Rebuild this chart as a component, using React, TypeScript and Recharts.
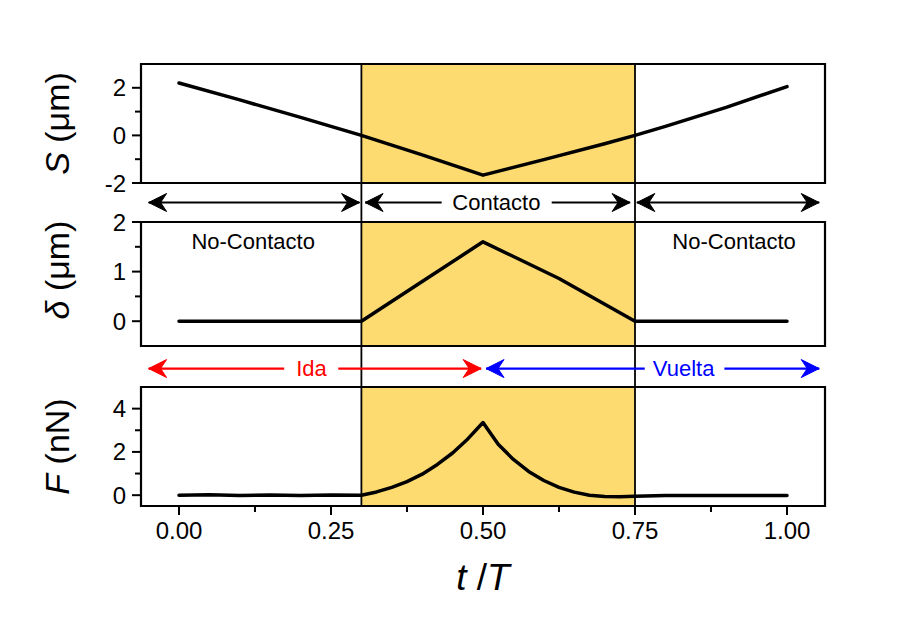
import { LineChart, Line, XAxis, YAxis, ReferenceArea, ReferenceLine, ReferenceDot } from 'recharts';

// t/T sampling and values
const tS = [0, 0.1, 0.2, 0.3, 0.4, 0.5, 0.6, 0.7, 0.75, 0.8, 0.9, 1.0];
const sValues = [2.2, 1.49, 0.76, 0.0, -0.82, -1.67, -1.02, -0.35, 0.0, 0.38, 1.18, 2.05];

const tDelta = [0, 0.3, 0.4, 0.5, 0.625, 0.75, 1.0];
const deltaValues = [0, 0, 0.8, 1.6, 0.86, 0, 0];

const tF = [
  0, 0.05, 0.1, 0.15, 0.2, 0.25, 0.3, 0.325, 0.35, 0.375, 0.4, 0.425, 0.45, 0.475, 0.5,
  0.51, 0.525, 0.55, 0.575, 0.6, 0.625, 0.65, 0.675, 0.7, 0.725, 0.75, 0.8, 0.85, 0.9, 0.95, 1.0,
];
const fValues = [
  0, 0.02, -0.01, 0.01, -0.02, 0.01, 0, 0.15, 0.36, 0.63, 0.97, 1.42, 1.95, 2.6, 3.36,
  2.95, 2.35, 1.65, 1.1, 0.68, 0.36, 0.14, 0.0, -0.06, -0.07, -0.05, -0.02, -0.01, -0.02, -0.01, -0.01,
];

const xDomain = [-0.0625, 1.0625];
const xTicks = [0, 0.125, 0.25, 0.375, 0.5, 0.625, 0.75, 0.875, 1];
const xMajor = [0, 0.25, 0.5, 0.75, 1];

const sDomain = [-2, 3];
const sTicks = [-2, -1, 0, 1, 2];
const sMajor = [-2, 0, 2];
const dDomain = [-0.5, 2];
const dTicks = [0, 0.5, 1, 1.5, 2];
const dMajor = [0, 1, 2];
const fDomain = [-0.5, 5];
const fTicks = [0, 1, 2, 3, 4];
const fMajor = [0, 2, 4];

const contactStart = 0.3;
const contactEnd = 0.75;

// arrow annotations (t/T units): [from, to, head at start, head at end]
const phaseArrows: [number, number, boolean, boolean][] = [
  [-0.05, 0.297, true, true],
  [0.306, 0.432, true, false],
  [0.613, 0.742, false, true],
  [0.753, 1.053, true, true],
];
const idaArrows: [number, number, boolean, boolean][] = [
  [-0.05, 0.173, true, false],
  [0.262, 0.497, false, true],
];
const vueltaArrows: [number, number, boolean, boolean][] = [
  [0.505, 0.766, true, false],
  [0.897, 1.053, false, true],
];
const contactoLabel = { t: 0.522, text: 'Contacto' };
const idaLabel = { t: 0.218, text: 'Ida' };
const vueltaLabel = { t: 0.83, text: 'Vuelta' };
const noContactoLabels = [
  { t: 0.122, v: 1.6 },
  { t: 0.913, v: 1.6 },
];

const W = 903;
const PLOT_LEFT = 141;
const MARGIN_R = 78;
const FONT = '"Liberation Sans", Arial, Helvetica, sans-serif';
const SHADE = '#FDDB70';

const toRows = (ts: number[], vs: number[]) => ts.map((t, i) => ({ t, v: vs[i] }));

const yTick = (major: number[]) => (props: any) => {
  const { x, y, payload } = props;
  const isMajor = major.includes(payload.value);
  return (
    <g>
      <line x1={x - (isMajor ? 9 : 6)} y1={y} x2={x} y2={y} stroke="#000" strokeWidth={2} />
      {isMajor && (
        <text x={x - 15} y={y} textAnchor="end" dominantBaseline="central" fontSize={24} fontFamily={FONT} fill="#000">
          {payload.value}
        </text>
      )}
    </g>
  );
};

const xTick = (props: any) => {
  const { x, y, payload } = props;
  const isMajor = xMajor.includes(payload.value);
  return (
    <g>
      <line x1={x} y1={y} x2={x} y2={y + (isMajor ? 9 : 6)} stroke="#000" strokeWidth={2} />
      {isMajor && (
        <text x={x} y={y + 33} textAnchor="middle" fontSize={24} fontFamily={FONT} fill="#000">
          {payload.value.toFixed(2)}
        </text>
      )}
    </g>
  );
};

const yTitle = (sym: string, unit: string, dy = 0) => (props: any) => {
  const { viewBox } = props;
  const cx = 57;
  const cy = viewBox.y + viewBox.height / 2 + dy;
  return (
    <text
      x={cx}
      y={cy}
      transform={`rotate(-90, ${cx}, ${cy})`}
      textAnchor="middle"
      dominantBaseline="central"
      fontSize={34}
      fontFamily={FONT}
      fill="#000"
    >
      <tspan fontStyle="italic">{sym}</tspan>
      <tspan> {unit}</tspan>
    </text>
  );
};

const head = (cx: number, cy: number, dir: number, color: string, key: string) => {
  const L = 18;
  const H = 9;
  const N = 12;
  const d = `M${cx},${cy} L${cx - dir * L},${cy - H} L${cx - dir * N},${cy} L${cx - dir * L},${cy + H} Z`;
  return <path key={key} d={d} fill={color} stroke={color} strokeWidth={1} strokeLinejoin="round" />;
};

const arrowLines = (arrows: [number, number, boolean, boolean][], color: string, prefix: string) =>
  arrows.map(([from, to, hs, he], i) => (
    <Line
      key={`${prefix}-${i}`}
      data={[
        { t: from, y: 0 },
        { t: to, y: 0 },
      ]}
      dataKey="y"
      stroke={color}
      strokeWidth={2.2}
      isAnimationActive={false}
      activeDot={false}
      dot={(p: any) => {
        const k = `${prefix}-${i}-${p.index}`;
        if (p.index === 0 && hs) return head(p.cx, p.cy, -1, color, k);
        if (p.index === 1 && he) return head(p.cx, p.cy, 1, color, k);
        return <g key={k} />;
      }}
    />
  ));

const rowText = (lbl: { t: number; text: string }, color: string) => (
  <ReferenceDot
    key={lbl.text}
    x={lbl.t}
    y={0}
    r={0}
    ifOverflow="visible"
    shape={(p: any) => (
      <text x={p.cx} y={p.cy} textAnchor="middle" dominantBaseline="central" fontSize={22} fontFamily={FONT} fill={color}>
        {lbl.text}
      </text>
    )}
  />
);

const contactLines = () => [
  <ReferenceLine key="c1" x={contactStart} stroke="#000" strokeWidth={1.8} />,
  <ReferenceLine key="c2" x={contactEnd} stroke="#000" strokeWidth={1.8} />,
];

const panelBase = (domain: number[]) => [
  <ReferenceArea key="shade" x1={contactStart} x2={contactEnd} y1={domain[0]} y2={domain[1]} fill={SHADE} fillOpacity={1} stroke="none" />,
  ...contactLines(),
  <ReferenceArea
    key="frame"
    x1={xDomain[0]}
    x2={xDomain[1]}
    y1={domain[0]}
    y2={domain[1]}
    fill="none"
    fillOpacity={0}
    stroke="#000"
    strokeWidth={2.2}
  />,
];

const lineStyle = {
  type: 'linear' as const,
  dataKey: 'v',
  stroke: '#000',
  strokeWidth: 3.5,
  dot: false,
  activeDot: false,
  strokeLinejoin: 'round' as const,
  strokeLinecap: 'round' as const,
  isAnimationActive: false,
};

export default function App() {
  const pos = (top: number): React.CSSProperties => ({ position: 'absolute', left: 0, top });
  return (
    <div style={{ position: 'absolute', left: 0, top: 0, width: W, height: 633, background: '#fff', fontFamily: FONT }}>
      {/* S panel */}
      <div style={pos(0)}>
        <LineChart width={W} height={200} data={toRows(tS, sValues)} margin={{ top: 64, right: MARGIN_R, bottom: 17, left: 0 }}>
          <XAxis type="number" dataKey="t" domain={xDomain} allowDataOverflow hide />
          <YAxis
            width={PLOT_LEFT}
            type="number"
            domain={sDomain}
            allowDataOverflow
            ticks={sTicks}
            interval={0}
            axisLine={false}
            tickLine={false}
            tickSize={0}
            tickMargin={0}
            tick={yTick(sMajor)}
            label={yTitle('S', '(μm)')}
          />
          {panelBase(sDomain)}
          <Line {...lineStyle} />
        </LineChart>
      </div>

      {/* phase arrows */}
      <div style={pos(183)}>
        <LineChart width={W} height={39} margin={{ top: 0, right: MARGIN_R, bottom: 0, left: PLOT_LEFT }}>
          <XAxis type="number" dataKey="t" domain={xDomain} allowDataOverflow hide />
          <YAxis type="number" domain={[-1, 1]} hide />
          {contactLines()}
          {arrowLines(phaseArrows, '#000', 'ph')}
          {rowText(contactoLabel, '#000')}
        </LineChart>
      </div>

      {/* delta panel */}
      <div style={pos(202)}>
        <LineChart width={W} height={164} data={toRows(tDelta, deltaValues)} margin={{ top: 20, right: MARGIN_R, bottom: 20, left: 0 }}>
          <XAxis type="number" dataKey="t" domain={xDomain} allowDataOverflow hide />
          <YAxis
            width={PLOT_LEFT}
            type="number"
            domain={dDomain}
            allowDataOverflow
            ticks={dTicks}
            interval={0}
            axisLine={false}
            tickLine={false}
            tickSize={0}
            tickMargin={0}
            tick={yTick(dMajor)}
            label={yTitle('δ', '(μm)', -14)}
          />
          {panelBase(dDomain)}
          <Line {...lineStyle} />
          {noContactoLabels.map((l, i) => (
            <ReferenceDot
              key={`nc${i}`}
              x={l.t}
              y={l.v}
              r={0}
              shape={(p: any) => (
                <text x={p.cx} y={p.cy} textAnchor="middle" dominantBaseline="central" fontSize={22} fontFamily={FONT} fill="#000">
                  No-Contacto
                </text>
              )}
            />
          ))}
        </LineChart>
      </div>

      {/* ida / vuelta arrows */}
      <div style={pos(346)}>
        <LineChart width={W} height={41} margin={{ top: 0, right: MARGIN_R, bottom: 0, left: PLOT_LEFT }}>
          <XAxis type="number" dataKey="t" domain={xDomain} allowDataOverflow hide />
          <YAxis type="number" domain={[-0.9, 1.1]} hide />
          {contactLines()}
          {arrowLines(idaArrows, '#FF0000', 'ida')}
          {arrowLines(vueltaArrows, '#0000FF', 'vu')}
          {rowText(idaLabel, '#FF0000')}
          {rowText(vueltaLabel, '#0000FF')}
        </LineChart>
      </div>

      {/* force panel */}
      <div style={pos(367)}>
        <LineChart width={W} height={239} data={toRows(tF, fValues)} margin={{ top: 20, right: MARGIN_R, bottom: 0, left: 0 }}>
          <XAxis
            type="number"
            dataKey="t"
            domain={xDomain}
            allowDataOverflow
            ticks={xTicks}
            interval={0}
            height={100}
            axisLine={false}
            tickLine={false}
            tickSize={0}
            tickMargin={0}
            tick={xTick}
            label={(props: any) => {
              const { viewBox } = props;
              const cx = viewBox.x + viewBox.width / 2;
              return (
                <text x={cx} y={viewBox.y + 84} textAnchor="middle" fontSize={37} fontFamily={FONT} fill="#000">
                  <tspan fontStyle="italic">t</tspan>
                  <tspan> /</tspan>
                  <tspan fontStyle="italic">T</tspan>
                </text>
              );
            }}
          />
          <YAxis
            width={PLOT_LEFT}
            type="number"
            domain={fDomain}
            allowDataOverflow
            ticks={fTicks}
            interval={0}
            axisLine={false}
            tickLine={false}
            tickSize={0}
            tickMargin={0}
            tick={yTick(fMajor)}
            label={yTitle('F', '(nN)')}
          />
          {panelBase(fDomain)}
          <Line {...lineStyle} />
        </LineChart>
      </div>
    </div>
  );
}
